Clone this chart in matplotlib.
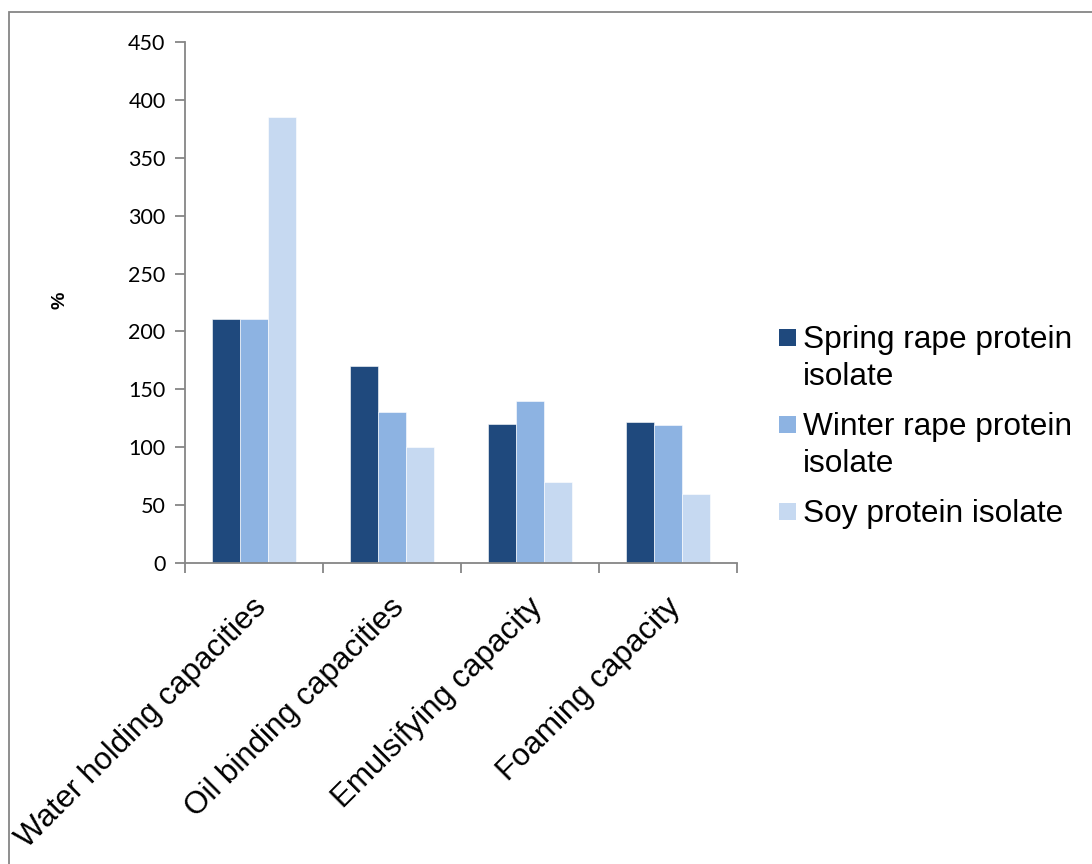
import matplotlib
matplotlib.use("Agg")
import matplotlib.pyplot as plt
import matplotlib.transforms as mtrans
from matplotlib.patches import Rectangle
import numpy as np

categories = ["Water holding capacities", "Oil binding capacities",
              "Emulsifying capacity", "Foaming capacity"]
series_names = [["Spring rape protein", "isolate"],
                ["Winter rape protein", "isolate"],
                ["Soy protein isolate"]]
spring = [211, 170, 120, 122]
winter = [211, 130, 140, 119]
soy = [385, 100, 70, 60]
yticks = [0, 50, 100, 150, 200, 250, 300, 350, 400, 450]

colors = ["#1F497D", "#8DB3E2", "#C6D9F1"]
grey = "#868686"
W, H = 1092, 864

fig = plt.figure(figsize=(W / 100, H / 100), dpi=100)
fig.patch.set_facecolor("white")

# outer chart frame (right and bottom edges fall outside the canvas)
fig.add_artist(Rectangle((9 / W, -0.2), 1.2, (H - 12) / H + 0.2, transform=fig.transFigure,
                         fill=False, edgecolor=grey, linewidth=1.3))

ax = fig.add_axes([185 / W, (H - 563) / H, (737 - 185) / W, (563 - 42) / H])

centers = np.arange(len(categories)) + 0.5
bw = 0.205
for i, vals in enumerate([spring, winter, soy]):
    ax.bar(centers + (i - 1) * bw, vals, width=bw, color=colors[i],
           edgecolor="white", linewidth=0.4, zorder=2)

ax.set_xlim(0, len(categories))
ax.set_ylim(0, 450)
ax.set_yticks(yticks)
ax.set_yticklabels([str(v) for v in yticks], fontfamily="Lato", fontsize=15.5)
ax.set_xticks(np.arange(len(categories) + 1))
ax.set_xticklabels([])
ax.set_xticks(centers, minor=True)
ax.set_xticklabels(categories, minor=True, rotation=45, ha="right", va="top",
                   rotation_mode="anchor", fontfamily="Liberation Sans", fontsize=22.5)
ax.tick_params(axis="x", which="minor", length=0, pad=21)
ax.tick_params(axis="x", which="major", length=7, width=1.3, color=grey, direction="out")
ax.tick_params(axis="y", length=7, width=1.3, color=grey, direction="out", pad=7)

offset = mtrans.ScaledTranslation(-3 / 100, 0, fig.dpi_scale_trans)
for lbl in ax.get_xticklabels(minor=True):
    lbl.set_transform(lbl.get_transform() + offset)

for s in ["top", "right"]:
    ax.spines[s].set_visible(False)
for s in ["left", "bottom"]:
    ax.spines[s].set_color(grey)
    ax.spines[s].set_linewidth(1.3)

fig.text(60 / W, 1 - 300 / H, "%", rotation=90, fontsize=14, fontweight="bold",
         fontfamily="Liberation Sans", ha="center", va="center")

# legend drawn entry by entry so the swatch sits beside the first text line
legend_rows = [329, 416, 503]
line_step = 37
for lines, c, top in zip(series_names, colors, legend_rows):
    fig.add_artist(Rectangle((779 / W, 1 - (top + 17) / H), 17 / W, 17 / H,
                             transform=fig.transFigure, facecolor=c, edgecolor="none"))
    for k, line in enumerate(lines):
        fig.text(803 / W, 1 - (top + 19 + k * line_step) / H, line, fontsize=22.8,
                 fontfamily="Liberation Sans", ha="left", va="baseline")

fig.savefig("out.png", dpi=100, facecolor="white")
